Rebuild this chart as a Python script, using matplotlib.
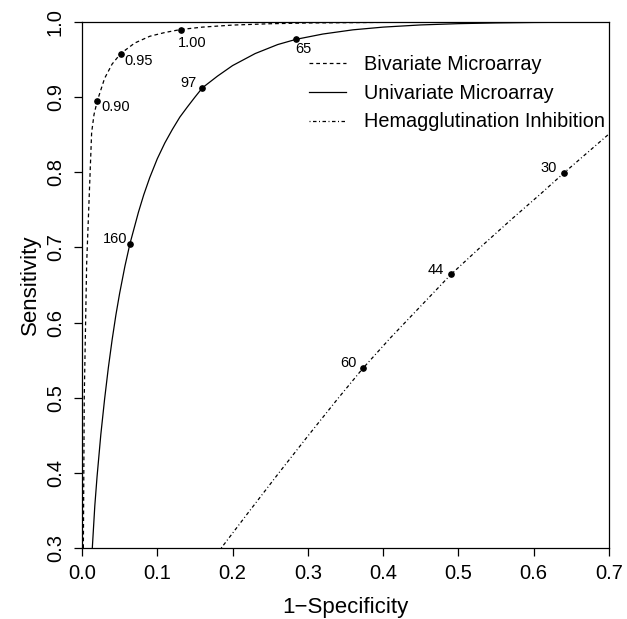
import matplotlib
matplotlib.use("Agg")
import matplotlib.pyplot as plt

plt.rcParams['font.family'] = ['Liberation Sans', 'DejaVu Sans']

# Curvas ROC (1-especificidade, sensibilidade)
biv_x = [0.0018, 0.003, 0.0062, 0.0128, 0.016, 0.0203, 0.03, 0.04, 0.0514, 0.07, 0.09, 0.11, 0.131,
         0.16, 0.20, 0.25, 0.30, 0.40, 0.50, 0.70]
biv_y = [0.300, 0.501, 0.679, 0.853, 0.877, 0.895, 0.925, 0.944, 0.958, 0.972, 0.981, 0.986, 0.990,
         0.9932, 0.9959, 0.9977, 0.9987, 0.9995, 0.9998, 1.0]

uni_x = [0.0137, 0.017, 0.02, 0.025, 0.03, 0.035, 0.04, 0.045, 0.05, 0.057, 0.0637, 0.075, 0.082, 0.09,
         0.10, 0.11, 0.12, 0.13, 0.14, 0.15, 0.160, 0.18, 0.20, 0.23, 0.26, 0.2846, 0.32, 0.36, 0.40,
         0.45, 0.50, 0.55, 0.60, 0.70]
uni_y = [0.300, 0.356, 0.395, 0.451, 0.498, 0.540, 0.577, 0.610, 0.639, 0.675, 0.705, 0.747, 0.770, 0.793,
         0.818, 0.839, 0.857, 0.8735, 0.887, 0.900, 0.9125, 0.928, 0.942, 0.958, 0.970, 0.977, 0.984,
         0.9896, 0.9932, 0.9961, 0.9978, 0.9988, 0.9994, 0.9999]

hi_x = [0.185, 0.22, 0.26, 0.30, 0.34, 0.373, 0.41, 0.45, 0.490, 0.53, 0.57, 0.61, 0.640, 0.67, 0.70]
hi_y = [0.300, 0.346, 0.398, 0.449, 0.499, 0.539, 0.580, 0.622, 0.664, 0.701, 0.737, 0.772, 0.799, 0.825, 0.851]

# Pontos marcados e rótulos
biv_pts_x = [0.0203, 0.0514, 0.131]
biv_pts_y = [0.895, 0.958, 0.990]
biv_labels = ["0.90", "0.95", "1.00"]

uni_pts_x = [0.0637, 0.160, 0.2846]
uni_pts_y = [0.705, 0.9125, 0.977]
uni_labels = ["160", "97", "65"]

hi_pts_x = [0.373, 0.490, 0.640]
hi_pts_y = [0.539, 0.664, 0.799]
hi_labels = ["60", "44", "30"]

fig = plt.figure(figsize=(6.27, 6.19), dpi=100)
ax = fig.add_axes([82 / 627, 71 / 619, 527 / 627, 526 / 619])

dash = (0, (3.0, 2.4))
dotdash = (0, (0.8, 2.0, 2.8, 2.0))

ax.plot(biv_x, biv_y, color='black', lw=0.9, linestyle=dash, label='Bivariate Microarray')
ax.plot(uni_x, uni_y, color='black', lw=0.9, linestyle='-', label='Univariate Microarray')
ax.plot(hi_x, hi_y, color='black', lw=0.9, linestyle=dotdash, label='Hemagglutination Inhibition')

ax.plot(biv_pts_x, biv_pts_y, 'o', color='black', ms=3.8, zorder=5)
ax.plot(uni_pts_x, uni_pts_y, 'o', color='black', ms=3.8, zorder=5)
ax.plot(hi_pts_x, hi_pts_y, 'o', color='black', ms=3.8, zorder=5)

# deslocamentos dos rótulos (pontos tipográficos)
biv_off = [(3.0, 0.5, 'left', 'top'), (3.0, 0.0, 'left', 'top'), (-2.0, -4.5, 'left', 'top')]
for x, y, t, (dx, dy, ha, va) in zip(biv_pts_x, biv_pts_y, biv_labels, biv_off):
    ax.annotate(t, (x, y), xytext=(dx, dy), textcoords='offset points', ha=ha, va=va, fontsize=10.5)

uni_off = [(-2.2, 0.7, 'right', 'baseline'), (-4.0, 0.5, 'right', 'baseline'), (-1.0, -2.0, 'left', 'top')]
for x, y, t, (dx, dy, ha, va) in zip(uni_pts_x, uni_pts_y, uni_labels, uni_off):
    ax.annotate(t, (x, y), xytext=(dx, dy), textcoords='offset points', ha=ha, va=va, fontsize=10.5)

for x, y, t in zip(hi_pts_x, hi_pts_y, hi_labels):
    ax.annotate(t, (x, y), xytext=(-4.8, 0.7), textcoords='offset points', ha='right', va='baseline', fontsize=10.5)

ax.set_xlim(0, 0.7)
ax.set_ylim(0.3, 1.0)
ax.set_xticks([0.0, 0.1, 0.2, 0.3, 0.4, 0.5, 0.6, 0.7])
ax.set_yticks([0.3, 0.4, 0.5, 0.6, 0.7, 0.8, 0.9, 1.0])
ax.xaxis.set_major_formatter(matplotlib.ticker.FormatStrFormatter('%.1f'))
ax.yaxis.set_major_formatter(matplotlib.ticker.FormatStrFormatter('%.1f'))
ax.tick_params(direction='out', length=5.8, width=0.9, labelsize=14.5)
ax.tick_params(axis='x', pad=6.0)
ax.tick_params(axis='y', pad=6.5, labelrotation=90)
for lab in ax.get_yticklabels():
    lab.set_verticalalignment('center')
for s in ax.spines.values():
    s.set_linewidth(0.9)

ax.set_xlabel('1\u2212Specificity', fontsize=16)
ax.set_ylabel('Sensitivity', fontsize=16)
ax.xaxis.set_label_coords(0.5, -0.093)
ax.yaxis.set_label_coords(-0.077, 0.5)

ax.legend(loc='upper left', bbox_to_anchor=(0.431, 0.938), frameon=False, fontsize=14.3,
          handlelength=1.85, handletextpad=0.9, labelspacing=0.5, borderaxespad=0.0, borderpad=0.0)

plt.savefig('out.png', dpi=100)
